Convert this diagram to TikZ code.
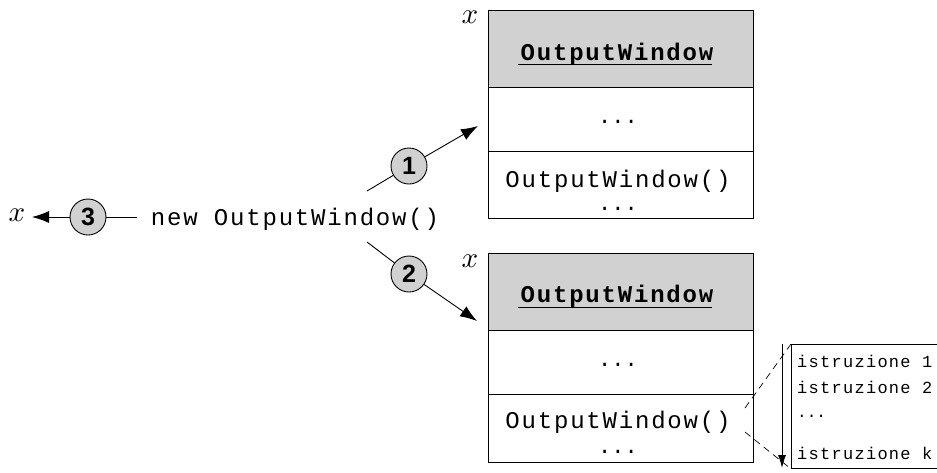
\documentclass[tikz,border=0pt]{standalone}
\usepackage{fontspec}
\newfontfamily\cmono[LetterSpace=7.5]{Liberation Mono}
\newfontfamily\pmono{Liberation Mono}
\newfontfamily\digitfont{Liberation Sans}
\usetikzlibrary{arrows.meta}
\newcommand{\bigx}{\scalebox{2.9}{$x$}}
\begin{document}
\begin{tikzpicture}[x=1pt,y=-1pt,
  part/.style={draw, line width=0.9pt, minimum width=265pt, inner sep=0pt},
  hdr/.style={part, fill=black!18},
  code/.style={inner sep=0pt, anchor=base, font=\fontsize{24}{26}\selectfont\cmono},
  bcode/.style={inner sep=0pt, anchor=base, font=\fontsize{24}{26}\selectfont\cmono\bfseries},
  dots/.style={inner sep=0pt, anchor=base, text height=3pt, text depth=0pt, font=\fontsize{22}{24}\selectfont\pmono},
  small/.style={inner sep=0pt, anchor=base west, font=\fontsize{17}{19}\selectfont\cmono},
  num/.style={circle, draw, line width=0.9pt, fill=black!18, minimum size=36pt, inner sep=0pt, font=\fontsize{25}{27}\selectfont\digitfont\bfseries},
  var/.style={inner sep=0pt},
  ln/.style={line width=0.9pt},
  arr/.style={ln, -{Latex[length=17pt,width=12pt]}}
]
\useasboundingbox (0,0) rectangle (937,472);

% object 1
\node[hdr, minimum height=77pt] (h1) at (620.5,48.5) {};
\node[part, minimum height=64pt] (m1) at (620.5,119) {};
\node[part, minimum height=67pt] (b1) at (620.5,184.5) {};
\node[bcode] (t1) at (617,60) {OutputWindow};
\draw[ln] (518,64) -- (712,64);
\node[dots] (d1) at (618,123) {...};
\node[code] (c1) at (618,187) {OutputWindow()};
\node[dots] (e1) at (618,210) {...};
\node[var] (x1) at (470,17) {\bigx};

% object 2
\node[hdr, minimum height=77pt] (h2) at (620.5,291.5) {};
\node[part, minimum height=64pt] (m2) at (620.5,362) {};
\node[part, minimum height=68pt] (b2) at (620.5,428) {};
\node[bcode] (t2) at (617,302) {OutputWindow};
\draw[ln] (518,307) -- (712,307);
\node[dots] (d2) at (618,366) {...};
\node[code] (c2) at (618,428) {OutputWindow()};
\node[dots] (e2) at (618,453) {...};
\node[var] (x2) at (470,261) {\bigx};

% expression
\node[code] (nw) at (295,225) {new OutputWindow()};
\node[num] (n1) at (409,166) {1};
\node[num] (n2) at (409,274) {2};
\node[num] (n3) at (88,217) {3};
\node[var] (x3) at (17,215) {\bigx};

\coordinate (s1) at (367,191);
\coordinate (a1) at (478,126);
\coordinate (s2) at (367,242);
\coordinate (a2) at (477,321);
\coordinate (s3) at (137,217);
\coordinate (a3) at (32,217);
\draw[ln] (s1) -- (n1);
\draw[arr] (n1) -- (a1);
\draw[ln] (s2) -- (n2);
\draw[arr] (n2) -- (a2);
\draw[ln] (s3) -- (n3);
\draw[arr] (n3) -- (a3);

% listing
\node[draw, line width=0.9pt, minimum width=150pt, minimum height=124pt, inner sep=0pt, anchor=north west] (lst) at (791,344) {};
\node[small] (i1) at (797,367) {istruzione 1};
\node[small] (i2) at (797,393) {istruzione 2};
\node[dots, anchor=base west, font=\fontsize{16}{18}\selectfont\pmono] (i3) at (797,417) {...};
\node[small] (i4) at (797,459) {istruzione k};
\coordinate (v1) at (782,344);
\coordinate (v2) at (782,468);
\draw[ln, -{Latex[length=13pt,width=8pt]}] (v1) -- (v2);
\coordinate (q1) at (745,408);
\coordinate (q2) at (745,432);
\draw[line width=0.7pt, dashed, dash pattern=on 7pt off 5pt] (q1) -- (lst.north west);
\draw[line width=0.7pt, dashed, dash pattern=on 7pt off 5pt] (q2) -- (lst.south west);
\end{tikzpicture}
\end{document}
